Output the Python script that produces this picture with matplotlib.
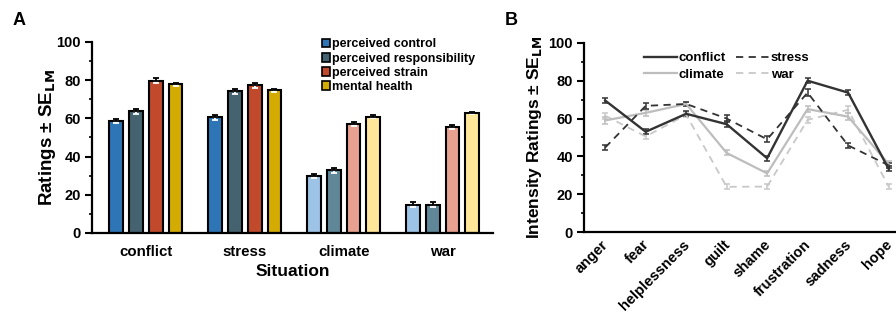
import matplotlib
matplotlib.use('Agg')
import matplotlib.pyplot as plt
import matplotlib.transforms as mtransforms
from matplotlib.patches import Patch
from matplotlib.lines import Line2D
from matplotlib.ticker import MultipleLocator
import numpy as np

plt.rcParams['font.family'] = ['Liberation Sans', 'DejaVu Sans']
plt.rcParams['font.weight'] = 'bold'

# panel A data
situations = ['conflict', 'stress', 'climate', 'war']
measures = ['perceived control', 'perceived responsibility', 'perceived strain', 'mental health']
bar_values = {
    'perceived control': [58.6, 60.6, 29.8, 14.8],
    'perceived responsibility': [63.7, 74.2, 32.8, 14.8],
    'perceived strain': [79.8, 77.3, 56.9, 55.5],
    'mental health': [77.8, 74.6, 60.8, 62.8],
}
bar_errors = {
    'perceived control': [1.3, 1.3, 1.2, 1.3],
    'perceived responsibility': [1.3, 1.3, 1.2, 1.2],
    'perceived strain': [1.2, 1.2, 1.1, 1.2],
    'mental health': [0.8, 0.8, 0.7, 0.6],
}
dark_colors = ['#2e75b6', '#44626f', '#c04a2b', '#d4ab00']
light_colors = ['#9dc3e6', '#5f8798', '#e8a090', '#ffe699']

# panel B data
emotions = ['anger', 'fear', 'helplessness', 'guilt', 'shame', 'frustration', 'sadness', 'hope']
conflict_vals = [69.5, 53.0, 62.5, 57.0, 39.0, 80.0, 73.7, 33.5]
stress_vals = [44.7, 66.7, 67.7, 60.0, 49.0, 73.7, 45.8, 35.3]
climate_vals = [59.0, 63.0, 67.7, 41.8, 31.0, 65.0, 61.0, 36.0]
war_vals = [61.5, 50.5, 62.0, 23.9, 24.0, 59.3, 64.6, 24.2]
conflict_err = [1.5, 1.3, 1.3, 1.5, 1.3, 1.3, 1.2, 1.2]
stress_err = [1.5, 1.5, 1.3, 1.8, 1.6, 2.0, 1.5, 1.3]
climate_err = [2.0, 1.5, 1.3, 1.3, 1.3, 1.5, 1.8, 1.3]
war_err = [1.5, 1.5, 1.3, 1.3, 1.3, 1.5, 1.8, 1.3]

fig = plt.figure(figsize=(8.96, 3.2), dpi=100)


def style_y(a):
    a.set_ylim(0, 100)
    a.yaxis.set_major_locator(MultipleLocator(20))
    a.yaxis.set_minor_locator(MultipleLocator(10))
    a.tick_params(axis='y', which='major', length=5, width=1.5, labelsize=10.5, pad=3)
    a.tick_params(axis='y', which='minor', length=2.5, width=1.2)
    for lab in a.get_yticklabels():
        lab.set_fontweight('bold')
    for s in ['top', 'right']:
        a.spines[s].set_visible(False)
    for s in ['left', 'bottom']:
        a.spines[s].set_linewidth(1.6)


# ---------- panel A ----------
ax = fig.add_axes([0.1027, 0.272, 0.4475, 0.597])
x = np.arange(len(situations))
offsets = [-0.3, -0.1, 0.1, 0.3]
for k, m in enumerate(measures):
    vals = bar_values[m]
    errs = np.array(bar_errors[m])
    zeros = np.zeros_like(errs)
    cols = [dark_colors[k], dark_colors[k], light_colors[k], light_colors[k]]
    xs = x + offsets[k]
    ax.bar(xs, vals, width=0.14, color=cols, edgecolor='black', linewidth=1.5, zorder=2)
    # lower half of the error bar in white, upper half in black
    ax.errorbar(xs, vals, yerr=[errs, zeros], fmt='none', ecolor='white',
                elinewidth=1.3, capsize=2.5, capthick=1.3, zorder=3)
    ax.errorbar(xs, vals, yerr=[zeros, errs], fmt='none', ecolor='black',
                elinewidth=1.3, capsize=2.5, capthick=1.3, zorder=3)

ax.set_xlim(-0.545, 3.51)
ax.set_xticks(x)
ax.set_xticklabels(situations, fontsize=10.8, fontweight='bold')
ax.tick_params(axis='x', length=0, pad=9)
style_y(ax)
ax.set_xlabel('Situation', fontsize=12.5, fontweight='bold', labelpad=3)
ax.set_ylabel(r'Ratings ± SE$_{\mathbf{LM}}$', fontsize=13.5, fontweight='bold', labelpad=-1)

handles = [Patch(facecolor=c, edgecolor='black', linewidth=1.2) for c in dark_colors]
ax.legend(handles, measures, loc='upper left', bbox_to_anchor=(0.56, 1.045),
          frameon=False, prop={'size': 9, 'weight': 'bold'},
          handlelength=0.7, handleheight=0.7, handletextpad=0.15,
          labelspacing=0.18, borderaxespad=0)
fig.text(0.014, 0.922, 'A', fontsize=13, fontweight='bold')

# ---------- panel B ----------
bx = fig.add_axes([0.652, 0.275, 0.36, 0.591])
xe = np.arange(len(emotions))
series = [
    ('conflict', conflict_vals, conflict_err, '#333333', '-', 1.7),
    ('stress', stress_vals, stress_err, '#333333', (0, (4, 3)), 1.3),
    ('climate', climate_vals, climate_err, '#bdbdbd', '-', 1.6),
    ('war', war_vals, war_err, '#c8c8c8', (0, (4, 3)), 1.3),
]
for name, vals, errs, col, ls, lw in reversed(series):
    bx.errorbar(xe, vals, yerr=errs, color=col, linestyle=ls, linewidth=lw,
                elinewidth=1.1, capsize=2.2, capthick=1.1, zorder=2)

bx.set_xlim(-0.52, 7.45)
bx.set_xticks(xe)
bx.set_xticklabels(emotions, rotation=45, ha='right', rotation_mode='anchor',
                   fontsize=10.5, fontweight='bold')
bx.tick_params(axis='x', length=0, pad=4)
shift = mtransforms.ScaledTranslation(-4 / 100, 0, fig.dpi_scale_trans)
for lab in bx.get_xticklabels():
    lab.set_transform(lab.get_transform() + shift)
style_y(bx)
bx.set_ylabel(r'Intensity Ratings ± SE$_{\mathbf{LM}}$', fontsize=12.5, fontweight='bold', labelpad=3)

leg_handles = [Line2D([0], [0], color=c, linestyle=ls, linewidth=lw) for _, _, _, c, ls, lw in series]
leg_labels = [s[0] for s in series]
order = [0, 2, 1, 3]
bx.legend([leg_handles[i] for i in order], [leg_labels[i] for i in order],
          ncol=2, loc='upper left', bbox_to_anchor=(0.17, 0.98), frameon=False,
          prop={'size': 9.5, 'weight': 'bold'}, handlelength=2.5, handletextpad=0.1,
          columnspacing=0.8, labelspacing=0.35, borderaxespad=0)
fig.text(0.563, 0.922, 'B', fontsize=13, fontweight='bold')

fig.savefig('out.png', dpi=100)
